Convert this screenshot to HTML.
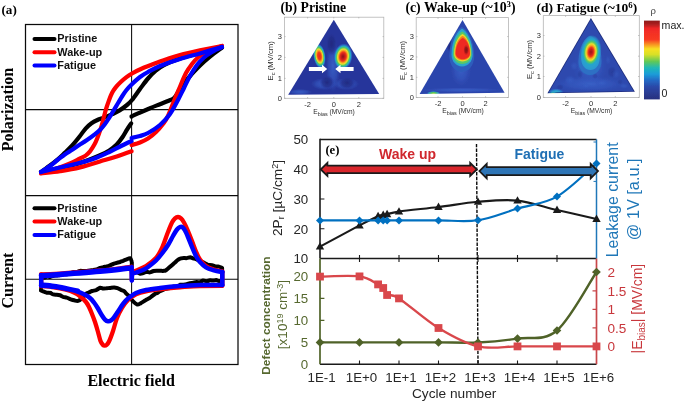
<!DOCTYPE html>
<html lang="en">
<head>
<meta charset="utf-8">
<title>Figure</title>
<style>
html,body{margin:0;padding:0;background:#fff;}
body{width:685px;height:405px;overflow:hidden;}
svg{display:block;filter:blur(0.4px);}
.ser{font-family:"Liberation Serif",serif;font-weight:bold;fill:#000;}
.san{font-family:"Liberation Sans",sans-serif;}
.sb{font-family:"Liberation Sans",sans-serif;font-weight:bold;}
</style>
</head>
<body>
<svg width="685" height="405" viewBox="0 0 685 405">
<rect x="0" y="0" width="685" height="405" fill="#ffffff"/>

<g id="panel-a">
<text class="ser" x="1.5" y="14" font-size="13.1">(a)</text>
<g fill="none" stroke="#0a0a0a" stroke-width="1.25">
<rect x="25.5" y="24.5" width="212.5" height="340.0"/>
<line x1="25.5" y1="195.6" x2="238.0" y2="195.6"/>
<line x1="131.6" y1="24.5" x2="131.6" y2="364.5" stroke-width="1.05"/>
<line x1="25.5" y1="109.6" x2="238.0" y2="109.6" stroke-width="1.05"/>
<line x1="25.5" y1="279.2" x2="238.0" y2="279.2" stroke-width="1.05"/>
</g>
<path d="M41.0 172.0 C42.5 170.9 47.2 167.6 50.0 165.5 C52.8 163.4 55.0 161.7 57.5 159.6 C60.0 157.5 62.3 155.2 64.8 152.8 C67.2 150.4 69.7 148.1 72.2 145.4 C74.7 142.7 77.4 139.3 79.6 136.5 C81.8 133.7 83.6 130.8 85.6 128.6 C87.6 126.4 89.5 124.6 91.5 123.2 C93.5 121.8 95.2 121.0 97.4 120.0 C99.6 119.0 102.3 118.4 104.8 117.4 C107.3 116.4 109.7 115.4 112.2 114.2 C114.7 113.0 117.1 111.9 119.6 110.4 C122.1 108.9 124.9 106.7 127.0 105.0 C129.1 103.3 129.8 102.7 132.0 100.0 C134.2 97.3 137.3 92.6 140.0 89.0 C142.7 85.4 145.3 81.6 148.0 78.5 C150.7 75.4 153.3 72.8 156.0 70.5 C158.7 68.2 160.0 67.0 164.0 65.0 C168.0 63.0 174.0 60.5 180.0 58.5 C186.0 56.5 193.0 54.8 200.0 53.0 C207.0 51.2 218.3 48.4 222.0 47.5" fill="none" stroke="#000" stroke-width="4.2" stroke-linecap="round" stroke-linejoin="round" />
<path d="M41.0 172.0 C44.2 171.3 53.5 169.5 60.0 168.0 C66.5 166.5 73.5 165.0 80.0 163.0 C86.5 161.0 94.0 157.9 98.9 155.8 C103.8 153.7 106.3 152.3 109.3 150.4 C112.3 148.5 114.5 146.6 116.7 144.4 C118.9 142.2 120.9 139.5 122.6 137.0 C124.3 134.5 125.6 131.9 127.0 129.6 C128.4 127.3 130.5 124.4 131.2 123.4" fill="none" stroke="#000" stroke-width="4.2" stroke-linecap="round" stroke-linejoin="round" />
<path d="M131.5 116.5 C132.9 115.8 136.9 114.0 140.0 112.6 C143.1 111.2 146.7 109.6 150.0 108.2 C153.3 106.8 157.0 105.4 160.0 104.2 C163.0 103.0 165.7 102.0 168.0 101.0 C170.3 100.0 172.2 99.6 174.0 98.0 C175.8 96.4 177.0 93.8 178.6 91.5 C180.2 89.2 181.5 86.7 183.5 84.0 C185.5 81.3 187.8 78.6 190.5 75.5 C193.2 72.4 196.8 68.7 200.0 65.5 C203.2 62.3 206.3 59.5 210.0 56.5 C213.7 53.5 220.0 49.0 222.0 47.5" fill="none" stroke="#000" stroke-width="4.2" stroke-linecap="round" stroke-linejoin="round" />
<path d="M41.0 173.0 C43.8 172.2 53.2 169.6 58.0 168.0 C62.8 166.4 66.4 165.1 70.0 163.5 C73.6 161.9 77.0 160.0 79.6 158.7 C82.2 157.4 83.9 156.8 85.6 155.6 C87.3 154.4 88.5 153.1 90.0 151.3 C91.5 149.5 93.2 146.8 94.4 144.6 C95.6 142.4 96.4 140.5 97.4 138.0 C98.4 135.5 99.5 132.2 100.4 129.6 C101.3 127.0 101.9 124.9 102.6 122.2 C103.3 119.5 104.1 116.2 104.8 113.5 C105.5 110.8 106.2 108.3 107.0 106.0 C107.8 103.7 108.5 101.7 109.3 99.5 C110.1 97.3 111.0 95.0 112.0 93.0 C113.0 91.0 114.0 89.5 115.5 87.6 C117.0 85.7 119.2 83.5 121.0 81.8 C122.8 80.1 124.7 78.6 126.5 77.2 C128.3 75.8 129.4 75.0 132.0 73.5 C134.6 72.0 138.3 70.1 142.0 68.5 C145.7 66.9 149.7 65.4 154.0 63.8 C158.3 62.2 163.7 60.3 168.0 58.8 C172.3 57.3 174.7 56.4 180.0 55.0 C185.3 53.6 193.0 51.9 200.0 50.4 C207.0 48.9 218.3 46.7 222.0 46.0" fill="none" stroke="#fe0000" stroke-width="4.2" stroke-linecap="round" stroke-linejoin="round" />
<path d="M41.0 173.5 C44.2 173.1 53.5 172.2 60.0 171.2 C66.5 170.2 72.5 169.3 80.0 167.4 C87.5 165.5 98.7 161.8 104.8 160.0 C110.9 158.2 112.2 157.8 116.7 156.4 C121.2 155.0 129.1 152.2 131.6 151.3" fill="none" stroke="#fe0000" stroke-width="4.2" stroke-linecap="round" stroke-linejoin="round" />
<path d="M131.6 145.0 C133.0 144.6 137.3 143.6 140.0 142.5 C142.7 141.4 145.3 140.2 148.0 138.5 C150.7 136.8 153.5 134.4 156.0 132.0 C158.5 129.6 161.0 126.7 163.0 124.0 C165.0 121.3 166.2 119.8 168.0 116.0 C169.8 112.2 172.2 105.5 174.0 101.0 C175.8 96.5 177.0 93.7 179.0 89.0 C181.0 84.3 183.8 77.2 186.0 73.0 C188.2 68.8 190.0 66.6 192.0 64.0 C194.0 61.4 195.7 59.4 198.0 57.5 C200.3 55.6 203.3 53.9 206.0 52.5 C208.7 51.1 211.3 50.1 214.0 49.0 C216.7 47.9 220.7 46.5 222.0 46.0" fill="none" stroke="#fe0000" stroke-width="4.2" stroke-linecap="round" stroke-linejoin="round" />
<path d="M41.0 172.0 C42.5 171.0 47.2 168.0 50.0 166.0 C52.8 164.0 55.0 161.9 57.5 160.0 C60.0 158.1 62.3 156.1 64.8 154.4 C67.2 152.7 69.7 151.4 72.2 149.8 C74.7 148.2 77.1 146.4 79.6 144.8 C82.1 143.2 84.5 141.7 87.0 140.0 C89.5 138.3 92.2 136.4 94.4 134.6 C96.6 132.8 98.7 131.1 100.4 129.4 C102.1 127.7 103.3 126.2 104.8 124.2 C106.3 122.2 107.8 119.9 109.3 117.6 C110.8 115.3 112.2 112.8 113.7 110.4 C115.2 108.0 116.7 105.3 118.1 103.0 C119.5 100.7 120.6 98.7 122.0 96.5 C123.4 94.3 124.9 92.0 126.5 90.0 C128.1 88.0 129.3 86.7 131.6 84.5 C133.8 82.3 137.3 79.1 140.0 77.0 C142.7 74.9 144.7 73.8 148.0 72.0 C151.3 70.2 154.7 68.2 160.0 66.0 C165.3 63.8 173.3 61.1 180.0 59.0 C186.7 56.9 193.0 55.4 200.0 53.4 C207.0 51.4 218.3 48.1 222.0 47.0" fill="none" stroke="#0000fe" stroke-width="4.2" stroke-linecap="round" stroke-linejoin="round" />
<path d="M41.0 172.0 C44.2 171.2 53.5 169.0 60.0 167.5 C66.5 166.0 74.3 164.3 80.0 162.8 C85.7 161.3 89.5 160.3 94.4 158.5 C99.3 156.7 104.8 154.1 109.3 152.0 C113.8 149.9 117.4 147.8 121.1 146.0 C124.8 144.2 129.8 141.8 131.6 141.0" fill="none" stroke="#0000fe" stroke-width="4.2" stroke-linecap="round" stroke-linejoin="round" />
<path d="M131.6 138.0 C133.0 137.7 137.3 136.8 140.0 136.0 C142.7 135.2 144.7 134.8 148.0 133.0 C151.3 131.2 156.3 128.2 160.0 125.0 C163.7 121.8 167.0 118.2 170.0 114.0 C173.0 109.8 175.7 104.3 178.0 100.0 C180.3 95.7 182.0 92.0 184.0 88.0 C186.0 84.0 187.8 79.8 190.0 76.0 C192.2 72.2 194.7 68.1 197.0 65.0 C199.3 61.9 201.5 59.7 204.0 57.5 C206.5 55.3 209.0 53.8 212.0 52.0 C215.0 50.2 220.3 47.8 222.0 47.0" fill="none" stroke="#0000fe" stroke-width="4.2" stroke-linecap="round" stroke-linejoin="round" />
<path d="M40.9 278.1 C41.4 278.0 43.0 277.9 44.1 277.6 C45.2 277.4 46.3 276.6 47.4 276.5 C48.4 276.4 49.3 277.0 50.3 276.9 C51.4 276.8 52.5 275.9 53.6 275.7 C54.7 275.4 55.9 275.6 57.0 275.5 C58.1 275.3 59.1 275.2 60.1 275.0 C61.2 274.7 62.3 274.1 63.4 274.0 C64.5 273.9 65.6 274.4 66.7 274.3 C67.8 274.2 68.9 273.9 70.0 273.5 C71.1 273.2 72.3 272.4 73.4 272.1 C74.5 271.9 75.7 272.4 76.8 272.2 C77.8 272.0 78.8 271.1 79.9 270.9 C81.0 270.7 82.3 271.0 83.5 271.0 C84.6 271.0 85.6 271.0 86.7 271.0 C87.8 270.9 89.0 270.7 90.1 270.5 C91.2 270.3 92.2 270.0 93.3 269.9 C94.4 269.7 95.5 269.8 96.6 269.5 C97.8 269.2 99.0 268.4 100.1 268.0 C101.2 267.6 102.1 267.4 103.2 267.2 C104.3 266.9 105.7 266.7 106.8 266.4 C108.0 266.1 109.0 265.7 110.0 265.3 C111.1 264.9 112.2 264.4 113.3 264.0 C114.4 263.6 115.5 263.3 116.6 262.9 C117.7 262.6 119.0 262.3 120.0 262.0 C121.1 261.6 122.0 261.2 123.1 260.8 C124.1 260.4 125.0 260.0 126.1 259.6 C127.3 259.2 129.1 257.9 130.1 258.2 C131.0 258.5 131.4 260.5 131.7 261.6 C132.0 262.6 131.8 263.7 131.8 264.7 C131.8 265.8 131.8 266.8 131.8 268.0 C131.8 269.2 131.8 271.3 131.8 272.0" fill="none" stroke="#000" stroke-width="4.0" stroke-linecap="round" stroke-linejoin="round" />
<path d="M131.9 272.1 C132.6 272.1 134.4 271.6 135.8 271.9 C137.2 272.2 138.9 273.5 140.1 273.7 C141.4 273.9 142.1 273.4 143.2 273.1 C144.2 272.8 145.5 272.0 146.6 271.8 C147.8 271.7 148.8 272.5 149.9 272.4 C151.1 272.2 152.4 271.3 153.5 271.0 C154.6 270.7 155.6 270.7 156.7 270.7 C157.8 270.7 159.0 270.7 160.1 270.8 C161.2 270.8 162.2 271.0 163.2 270.9 C164.1 270.8 164.9 270.9 166.0 270.2 C167.1 269.5 168.6 268.1 169.9 266.9 C171.3 265.8 172.7 264.5 174.0 263.3 C175.4 262.2 176.7 260.7 177.9 259.9 C179.0 259.0 180.1 258.6 181.0 258.3 C182.0 258.0 182.8 258.0 183.8 258.0 C184.8 258.0 185.9 258.3 186.9 258.1 C188.0 258.0 189.2 257.3 190.2 257.3 C191.2 257.4 192.0 258.0 193.0 258.3 C194.0 258.6 194.9 258.7 196.1 259.1 C197.2 259.6 198.7 260.6 200.0 261.2 C201.4 261.8 202.9 262.2 204.2 262.8 C205.5 263.4 206.7 264.4 208.0 264.8 C209.3 265.2 210.5 264.9 211.9 265.2 C213.3 265.5 215.0 266.3 216.2 266.5 C217.4 266.8 218.1 266.3 219.0 266.6 C220.0 266.8 221.5 267.8 222.0 268.0" fill="none" stroke="#000" stroke-width="4.0" stroke-linecap="round" stroke-linejoin="round" />
<path d="M222.0 281.1 C221.4 281.1 219.8 281.2 218.8 281.0 C217.8 280.9 217.0 280.2 216.1 280.1 C215.1 280.1 214.1 280.6 213.1 280.6 C212.1 280.6 211.1 280.2 210.1 280.3 C209.0 280.4 207.9 281.1 206.8 281.2 C205.6 281.2 204.2 280.4 203.1 280.6 C202.0 280.7 201.2 281.9 200.1 282.1 C199.0 282.4 197.7 282.0 196.6 282.1 C195.4 282.2 194.5 282.4 193.4 282.6 C192.3 282.8 191.1 283.0 189.9 283.2 C188.8 283.5 187.7 284.1 186.6 284.3 C185.5 284.5 184.3 284.6 183.2 284.7 C182.2 284.8 181.2 284.5 180.1 284.8 C179.1 285.2 178.1 286.3 177.0 286.6 C176.0 286.9 174.9 286.5 173.9 286.6 C172.9 286.7 172.1 287.1 171.1 287.4 C170.1 287.7 169.0 288.1 167.9 288.4 C166.7 288.8 165.4 289.0 164.1 289.4 C162.8 289.9 161.0 290.7 159.9 291.3 C158.8 291.8 158.3 292.5 157.5 292.9 C156.6 293.4 155.7 293.5 154.8 294.0 C153.9 294.6 152.9 295.5 151.9 296.2 C151.0 296.9 150.2 297.6 149.2 298.2 C148.2 298.8 147.2 299.2 145.9 300.0 C144.5 300.8 142.5 302.3 141.0 303.1 C139.6 303.8 138.5 304.8 137.1 304.5 C135.8 304.2 133.9 302.1 132.9 301.2 C131.9 300.3 131.8 300.0 131.1 299.2 C130.5 298.4 129.9 297.2 129.1 296.3 C128.3 295.4 127.2 294.6 126.3 293.7 C125.5 292.9 125.0 291.8 124.1 291.2 C123.2 290.5 122.0 290.4 120.9 289.9 C119.9 289.4 119.1 288.8 118.0 288.4 C116.8 288.0 115.5 287.5 114.2 287.4 C112.8 287.3 111.0 287.8 109.8 287.9 C108.6 288.1 107.9 288.2 106.8 288.3 C105.7 288.4 104.4 288.6 103.3 288.5 C102.2 288.5 101.4 287.6 100.2 287.8 C99.0 288.1 97.5 289.5 96.1 290.1 C94.8 290.6 93.3 290.6 92.1 291.0 C90.9 291.4 89.9 292.0 88.9 292.5 C87.9 293.0 87.0 292.9 85.9 293.9 C84.7 294.8 83.3 297.0 82.0 298.2 C80.7 299.4 79.4 300.5 78.1 300.9 C76.8 301.2 75.5 300.6 74.2 300.3 C72.8 300.0 71.4 299.5 70.2 299.1 C69.0 298.6 68.0 298.0 66.8 297.6 C65.7 297.2 64.3 297.2 63.1 296.8 C62.0 296.4 60.9 295.6 59.9 295.2 C58.8 294.9 57.8 294.8 56.7 294.7 C55.6 294.6 54.4 294.8 53.3 294.4 C52.2 294.1 51.1 293.1 50.0 292.8 C49.0 292.5 47.9 292.8 46.9 292.7 C45.9 292.5 45.0 292.1 44.0 291.7 C43.0 291.4 41.5 290.7 41.0 290.5" fill="none" stroke="#000" stroke-width="4.0" stroke-linecap="round" stroke-linejoin="round" />
<path d="M41 277 V290.5 M222.3 268 V283" stroke="#000" stroke-width="3.6" fill="none" stroke-linecap="round"/>
<path d="M41.0 274.5 C44.2 274.4 53.5 274.0 60.0 273.6 C66.5 273.2 73.3 272.5 80.0 272.0 C86.7 271.5 93.3 271.1 100.0 270.5 C106.7 269.9 114.9 268.9 120.0 268.3 C125.1 267.7 128.6 266.9 130.5 266.8 C132.4 266.8 131.4 265.8 131.6 268.0 C131.8 270.2 131.7 279.2 131.8 280.0 C131.9 280.8 131.7 274.6 132.4 273.0 C133.1 271.4 133.7 271.8 136.0 270.6 C138.3 269.4 142.7 268.1 146.0 266.0 C149.3 263.9 153.3 261.0 156.0 258.0 C158.7 255.0 160.0 252.3 162.0 248.0 C164.0 243.7 166.3 236.2 168.0 232.0 C169.7 227.8 170.8 224.8 172.0 222.5 C173.2 220.2 174.0 219.2 175.0 218.3 C176.0 217.4 177.0 217.0 178.0 217.0 C179.0 217.0 180.0 217.4 181.0 218.3 C182.0 219.2 182.8 220.4 184.0 222.5 C185.2 224.6 186.7 227.9 188.0 231.0 C189.3 234.1 190.7 237.6 192.0 241.0 C193.3 244.4 194.7 248.4 196.0 251.5 C197.3 254.6 198.3 257.1 200.0 259.5 C201.7 261.9 203.7 264.3 206.0 266.0 C208.3 267.7 211.3 268.6 214.0 269.5 C216.7 270.4 220.9 271.2 222.3 271.5" fill="none" stroke="#fe0000" stroke-width="4.3" stroke-linecap="round" stroke-linejoin="round" />
<path d="M222.3 285.8 C218.6 285.8 207.1 285.8 200.0 286.0 C192.9 286.2 186.7 286.8 180.0 287.3 C173.3 287.9 165.7 288.6 160.0 289.3 C154.3 290.0 150.0 290.5 146.0 291.3 C142.0 292.1 139.0 292.9 136.0 294.3 C133.0 295.8 130.3 297.7 128.0 300.0 C125.7 302.3 123.8 305.0 122.0 308.0 C120.2 311.0 118.5 314.2 117.0 318.0 C115.5 321.8 114.3 327.1 113.0 331.0 C111.7 334.9 110.1 339.2 109.0 341.5 C107.9 343.8 107.2 344.3 106.5 345.0 C105.8 345.7 105.4 345.7 104.8 345.7 C104.2 345.7 103.7 345.8 103.0 345.0 C102.3 344.2 101.3 343.2 100.5 341.0 C99.7 338.8 98.9 335.2 98.0 332.0 C97.1 328.8 96.0 325.0 95.0 322.0 C94.0 319.0 93.0 316.5 92.0 314.0 C91.0 311.5 90.0 309.0 89.0 307.0 C88.0 305.0 87.5 303.8 86.0 302.0 C84.5 300.2 82.0 297.9 80.0 296.3 C78.0 294.7 76.3 293.7 74.0 292.6 C71.7 291.5 69.3 290.7 66.0 289.8 C62.7 288.9 58.2 287.9 54.0 287.3 C49.8 286.7 43.2 286.2 41.0 286.0" fill="none" stroke="#fe0000" stroke-width="4.3" stroke-linecap="round" stroke-linejoin="round" />
<path d="M41.2 274.5 V286 M222.3 271.5 V285.8" stroke="#fe0000" stroke-width="4.3" fill="none" stroke-linecap="round"/>
<path d="M41.4 276.3 C44.5 276.1 53.6 275.5 60.0 275.0 C66.4 274.5 73.3 273.9 80.0 273.4 C86.7 272.9 93.3 272.4 100.0 271.8 C106.7 271.2 114.9 270.4 120.0 269.8 C125.1 269.2 128.8 268.6 130.6 268.4" fill="none" stroke="#0000fe" stroke-width="4.5" stroke-linecap="round" stroke-linejoin="round" />
<path d="M41.4 284.6 C43.5 284.8 49.9 285.3 54.0 285.9 C58.1 286.5 62.0 287.3 66.0 288.1 C70.0 288.9 76.0 290.4 78.0 290.8" fill="none" stroke="#0000fe" stroke-width="4.5" stroke-linecap="round" stroke-linejoin="round" />
<path d="M41.0 275.3 C44.2 275.1 53.5 274.5 60.0 274.0 C66.5 273.5 73.3 272.9 80.0 272.4 C86.7 271.9 93.3 271.4 100.0 270.8 C106.7 270.2 114.9 269.4 120.0 268.8 C125.1 268.2 128.6 267.4 130.5 267.4 C132.4 267.3 131.4 266.3 131.6 268.5 C131.8 270.7 131.7 279.6 131.8 280.5 C131.9 281.4 131.7 275.1 132.4 273.8 C133.1 272.5 134.1 273.3 136.0 272.6 C137.9 271.9 141.7 270.8 144.0 269.6 C146.3 268.4 148.0 267.0 150.0 265.5 C152.0 264.0 154.0 262.5 156.0 260.5 C158.0 258.5 160.0 256.1 162.0 253.5 C164.0 250.9 166.2 247.9 168.0 245.0 C169.8 242.1 171.5 238.6 173.0 236.0 C174.5 233.4 175.8 231.0 177.0 229.5 C178.2 228.0 179.1 227.4 180.0 227.0 C180.9 226.6 181.7 226.7 182.5 227.3 C183.3 227.9 184.1 228.9 185.0 230.5 C185.9 232.1 186.8 234.2 188.0 237.0 C189.2 239.8 190.7 243.8 192.0 247.0 C193.3 250.2 194.7 253.5 196.0 256.0 C197.3 258.5 198.3 260.1 200.0 262.0 C201.7 263.9 203.7 265.9 206.0 267.3 C208.3 268.7 211.3 269.5 214.0 270.3 C216.7 271.1 220.9 271.7 222.3 272.0" fill="none" stroke="#0000fe" stroke-width="4.5" stroke-linecap="round" stroke-linejoin="round" />
<path d="M222.3 285.0 C218.6 285.0 207.1 284.8 200.0 285.0 C192.9 285.2 186.7 285.5 180.0 286.0 C173.3 286.5 165.7 287.3 160.0 288.0 C154.3 288.7 150.0 289.2 146.0 290.0 C142.0 290.8 139.0 291.6 136.0 293.0 C133.0 294.4 130.2 296.8 128.0 298.6 C125.8 300.4 124.7 301.9 123.0 304.0 C121.3 306.1 119.5 309.3 118.0 311.5 C116.5 313.7 115.2 315.8 114.0 317.3 C112.8 318.8 112.0 319.7 111.0 320.4 C110.0 321.1 109.0 321.4 108.0 321.3 C107.0 321.2 106.0 320.6 105.0 319.6 C104.0 318.6 103.2 317.4 102.0 315.5 C100.8 313.6 99.3 310.7 98.0 308.5 C96.7 306.3 95.3 304.2 94.0 302.5 C92.7 300.8 91.7 299.4 90.0 298.0 C88.3 296.6 86.3 295.3 84.0 294.2 C81.7 293.1 79.0 292.1 76.0 291.2 C73.0 290.3 69.7 289.7 66.0 289.0 C62.3 288.3 58.2 287.4 54.0 286.8 C49.8 286.2 43.2 285.7 41.0 285.5" fill="none" stroke="#0000fe" stroke-width="4.5" stroke-linecap="round" stroke-linejoin="round" />
<path d="M41.2 275.3 V285.5 M222.3 272 V285" stroke="#0000fe" stroke-width="4.5" fill="none" stroke-linecap="round"/>
<line x1="34.5" y1="39.0" x2="54.5" y2="39.0" stroke="#000" stroke-width="4" stroke-linecap="round"/>
<text class="sb" x="57.3" y="42.2" font-size="10.9" fill="#111">Pristine</text>
<line x1="34.5" y1="52.3" x2="54.5" y2="52.3" stroke="#fe0000" stroke-width="4" stroke-linecap="round"/>
<text class="sb" x="57.3" y="55.5" font-size="10.9" fill="#111">Wake-up</text>
<line x1="34.5" y1="65.6" x2="54.5" y2="65.6" stroke="#0000fe" stroke-width="4" stroke-linecap="round"/>
<text class="sb" x="57.3" y="68.8" font-size="10.9" fill="#111">Fatigue</text>
<line x1="34.5" y1="208.3" x2="54.5" y2="208.3" stroke="#000" stroke-width="4" stroke-linecap="round"/>
<text class="sb" x="57.3" y="211.5" font-size="10.9" fill="#111">Pristine</text>
<line x1="34.5" y1="221.6" x2="54.5" y2="221.6" stroke="#fe0000" stroke-width="4" stroke-linecap="round"/>
<text class="sb" x="57.3" y="224.8" font-size="10.9" fill="#111">Wake-up</text>
<line x1="34.5" y1="234.9" x2="54.5" y2="234.9" stroke="#0000fe" stroke-width="4" stroke-linecap="round"/>
<text class="sb" x="57.3" y="238.1" font-size="10.9" fill="#111">Fatigue</text>
<text class="ser" transform="translate(13.1,109.6) rotate(-90)" text-anchor="middle" font-size="16">Polarization</text>
<text class="ser" transform="translate(13.1,280.6) rotate(-90)" text-anchor="middle" font-size="16">Current</text>
<text class="ser" x="131.2" y="386" text-anchor="middle" font-size="16">Electric field</text>
</g>
<defs>
<radialGradient id="hotA" cx="0.5" cy="0.5" r="0.5">
<stop offset="0" stop-color="#8e1418" stop-opacity="1"/>
<stop offset="0.18" stop-color="#c01c1c" stop-opacity="1"/>
<stop offset="0.34" stop-color="#ee361c" stop-opacity="1"/>
<stop offset="0.46" stop-color="#f8a020" stop-opacity="1"/>
<stop offset="0.56" stop-color="#e8e030" stop-opacity="1"/>
<stop offset="0.67" stop-color="#58c860" stop-opacity="1"/>
<stop offset="0.79" stop-color="#22a8c8" stop-opacity="1"/>
<stop offset="0.9" stop-color="#2c62c4" stop-opacity="0.8"/>
<stop offset="1" stop-color="#2c4cb0" stop-opacity="0"/>
</radialGradient>
<radialGradient id="hotB" cx="0.5" cy="0.5" r="0.5">
<stop offset="0" stop-color="#e8281e" stop-opacity="1"/>
<stop offset="0.28" stop-color="#f03a1c" stop-opacity="1"/>
<stop offset="0.44" stop-color="#f8a020" stop-opacity="1"/>
<stop offset="0.55" stop-color="#e8e030" stop-opacity="1"/>
<stop offset="0.67" stop-color="#58c860" stop-opacity="1"/>
<stop offset="0.8" stop-color="#22a8c8" stop-opacity="1"/>
<stop offset="0.91" stop-color="#2c62c4" stop-opacity="0.8"/>
<stop offset="1" stop-color="#2c4cb0" stop-opacity="0"/>
</radialGradient>
<radialGradient id="hotD" cx="0.5" cy="0.5" r="0.5">
<stop offset="0" stop-color="#9a1618" stop-opacity="1"/>
<stop offset="0.14" stop-color="#c01c1c" stop-opacity="1"/>
<stop offset="0.27" stop-color="#ee361c" stop-opacity="1"/>
<stop offset="0.38" stop-color="#f8a020" stop-opacity="1"/>
<stop offset="0.48" stop-color="#e8e030" stop-opacity="1"/>
<stop offset="0.6" stop-color="#58c860" stop-opacity="1"/>
<stop offset="0.74" stop-color="#22a8c8" stop-opacity="1"/>
<stop offset="0.88" stop-color="#2aa2d0" stop-opacity="0.6"/>
<stop offset="1" stop-color="#2aa2d0" stop-opacity="0"/>
</radialGradient>
<radialGradient id="dk" cx="0.5" cy="0.5" r="0.5">
<stop offset="0" stop-color="#7a1216" stop-opacity="1"/>
<stop offset="0.5" stop-color="#8e1418" stop-opacity="0.8"/>
<stop offset="1" stop-color="#c81e1e" stop-opacity="0"/>
</radialGradient>
<radialGradient id="lt" cx="0.5" cy="0.5" r="0.5">
<stop offset="0" stop-color="#3a62c8" stop-opacity="0.9"/>
<stop offset="0.6" stop-color="#3458c0" stop-opacity="0.6"/>
<stop offset="1" stop-color="#3050b8" stop-opacity="0"/>
</radialGradient>
<radialGradient id="dkb" cx="0.5" cy="0.5" r="0.5">
<stop offset="0" stop-color="#20287e" stop-opacity="0.95"/>
<stop offset="0.6" stop-color="#222c88" stop-opacity="0.7"/>
<stop offset="1" stop-color="#26309a" stop-opacity="0"/>
</radialGradient>
<radialGradient id="cy" cx="0.5" cy="0.5" r="0.5">
<stop offset="0" stop-color="#30b8c8" stop-opacity="1"/>
<stop offset="0.5" stop-color="#2c9cd0" stop-opacity="0.95"/>
<stop offset="0.78" stop-color="#2c78c8" stop-opacity="0.7"/>
<stop offset="1" stop-color="#2c60c0" stop-opacity="0"/>
</radialGradient>
<radialGradient id="gr" cx="0.5" cy="0.5" r="0.5">
<stop offset="0" stop-color="#c8d830" stop-opacity="1"/>
<stop offset="0.35" stop-color="#50c060" stop-opacity="1"/>
<stop offset="0.7" stop-color="#28a0c0" stop-opacity="0.9"/>
<stop offset="1" stop-color="#2c60c0" stop-opacity="0"/>
</radialGradient>
<linearGradient id="jet" x1="0" y1="0" x2="0" y2="1">
<stop offset="0" stop-color="#8c1c1c"/>
<stop offset="0.05" stop-color="#b02020"/>
<stop offset="0.1" stop-color="#f02828"/>
<stop offset="0.24" stop-color="#f83a20"/>
<stop offset="0.3" stop-color="#f89020"/>
<stop offset="0.36" stop-color="#f8e020"/>
<stop offset="0.43" stop-color="#d8e028"/>
<stop offset="0.52" stop-color="#60c858"/>
<stop offset="0.6" stop-color="#20b8b8"/>
<stop offset="0.68" stop-color="#1c9cd8"/>
<stop offset="0.76" stop-color="#2468c4"/>
<stop offset="0.84" stop-color="#2a48a8"/>
<stop offset="1" stop-color="#28307e"/>
</linearGradient>
<clipPath id="triB"><path d="M333.8 19.8 L379.2 94 L288.2 94.8 Z"/></clipPath>
<clipPath id="triC"><path d="M462.5 20 L504.6 92.7 L419.6 93.9 Z"/></clipPath>
<clipPath id="triD"><path d="M590.9 18 L634.9 91.8 L547.4 93.2 Z"/></clipPath>
<filter id="bl1" x="-20%" y="-20%" width="140%" height="140%"><feGaussianBlur stdDeviation="0.6"/></filter>
<filter id="bl2" x="-20%" y="-20%" width="140%" height="140%"><feGaussianBlur stdDeviation="0.35"/></filter>
</defs>
<g id="panel-b">
<text class="ser" x="280.4" y="12" font-size="13.7">(b) Pristine</text>
<rect x="284.4" y="17.2" width="99.4" height="81.1" fill="none" stroke="#b4b4b4" stroke-width="0.8"/>
<g class="san" font-size="7.5" fill="#2c2c2c" filter="url(#bl2)">
<text x="307.6" y="106.6" text-anchor="middle">-2</text>
<path d="M307.6 98.3 v-1.2 M307.6 17.2 v1.2" stroke="#999" stroke-width="0.6"/>
<text x="333.8" y="106.6" text-anchor="middle">0</text>
<path d="M333.8 98.3 v-1.2 M333.8 17.2 v1.2" stroke="#999" stroke-width="0.6"/>
<text x="358.8" y="106.6" text-anchor="middle">2</text>
<path d="M358.8 98.3 v-1.2 M358.8 17.2 v1.2" stroke="#999" stroke-width="0.6"/>
<text x="282.0" y="100.9" text-anchor="end">0</text>
<path d="M284.4 98.3 h1.2 M383.8 98.3 h-1.2" stroke="#999" stroke-width="0.6"/>
<text x="282.0" y="81.0" text-anchor="end">1</text>
<path d="M284.4 78.4 h1.2 M383.8 78.4 h-1.2" stroke="#999" stroke-width="0.6"/>
<text x="282.0" y="60.0" text-anchor="end">2</text>
<path d="M284.4 57.4 h1.2 M383.8 57.4 h-1.2" stroke="#999" stroke-width="0.6"/>
<text x="282.0" y="39.2" text-anchor="end">3</text>
<path d="M284.4 36.6 h1.2 M383.8 36.6 h-1.2" stroke="#999" stroke-width="0.6"/>
<text x="334.0" y="114.1" text-anchor="middle" font-size="6.7">E<tspan font-size="5.4" dy="1.8">bias</tspan><tspan dy="-1.8"> (MV/cm)</tspan></text>
<text transform="translate(273.2,60.8) rotate(-90)" text-anchor="middle" font-size="7.7">E<tspan font-size="5.8" dy="1.8">c</tspan><tspan dy="-1.8"> (MV/cm)</tspan></text>
</g>
<g clip-path="url(#triB)"><g filter="url(#bl1)">
<rect x="284" y="15" width="100" height="84" fill="#27369b"/>
<ellipse cx="333" cy="66" rx="7" ry="26" fill="url(#lt)"/>
<ellipse cx="324" cy="84" rx="13" ry="6" fill="url(#lt)"/>
<ellipse cx="346" cy="84" rx="13" ry="6" fill="url(#lt)"/>
<ellipse cx="331.5" cy="44" rx="5.5" ry="12" fill="url(#dkb)"/>
<ellipse cx="327" cy="82.5" rx="7.5" ry="7" fill="url(#dkb)"/>
<ellipse cx="347" cy="83" rx="8.5" ry="6.5" fill="url(#dkb)"/>
<ellipse cx="300" cy="92" rx="12" ry="3" fill="url(#lt)"/>
<ellipse cx="319.4" cy="56" rx="6.2" ry="12.6" fill="url(#hotB)" transform="rotate(-8 319.4 56)"/>
<ellipse cx="343" cy="56.6" rx="9.6" ry="13.4" fill="url(#hotA)" transform="rotate(8 343 56.6)"/>
</g></g>
<path d="M308.9 67 H322 V64.8 L327.2 69 L322 73.2 V71 H308.9 Z" fill="#fff"/>
<path d="M353.6 67 H340.5 V64.8 L335.3 69 L340.5 73.2 V71 H353.6 Z" fill="#fff"/>
</g>
<g id="panel-c">
<text class="ser" x="405.4" y="12" font-size="13.8">(c) Wake-up (~10<tspan font-size="8.8" dy="-4.6">3</tspan><tspan dy="4.6">)</tspan></text>
<rect x="416.2" y="17.6" width="92.2" height="79.9" fill="none" stroke="#b4b4b4" stroke-width="0.8"/>
<g class="san" font-size="7.5" fill="#2c2c2c" filter="url(#bl2)">
<text x="438.0" y="105.8" text-anchor="middle">-2</text>
<path d="M438.0 97.5 v-1.2 M438.0 17.6 v1.2" stroke="#999" stroke-width="0.6"/>
<text x="462.5" y="105.8" text-anchor="middle">0</text>
<path d="M462.5 97.5 v-1.2 M462.5 17.6 v1.2" stroke="#999" stroke-width="0.6"/>
<text x="485.6" y="105.8" text-anchor="middle">2</text>
<path d="M485.6 97.5 v-1.2 M485.6 17.6 v1.2" stroke="#999" stroke-width="0.6"/>
<text x="413.8" y="100.1" text-anchor="end">0</text>
<path d="M416.2 97.5 h1.2 M508.4 97.5 h-1.2" stroke="#999" stroke-width="0.6"/>
<text x="413.8" y="79.9" text-anchor="end">1</text>
<path d="M416.2 77.3 h1.2 M508.4 77.3 h-1.2" stroke="#999" stroke-width="0.6"/>
<text x="413.8" y="59.6" text-anchor="end">2</text>
<path d="M416.2 57.0 h1.2 M508.4 57.0 h-1.2" stroke="#999" stroke-width="0.6"/>
<text x="413.8" y="39.2" text-anchor="end">3</text>
<path d="M416.2 36.6 h1.2 M508.4 36.6 h-1.2" stroke="#999" stroke-width="0.6"/>
<text x="463.0" y="113.3" text-anchor="middle" font-size="6.7">E<tspan font-size="5.4" dy="1.8">bias</tspan><tspan dy="-1.8"> (MV/cm)</tspan></text>
<text transform="translate(405.0,60.5) rotate(-90)" text-anchor="middle" font-size="7.7">E<tspan font-size="5.8" dy="1.8">c</tspan><tspan dy="-1.8"> (MV/cm)</tspan></text>
</g>
<g clip-path="url(#triC)"><g filter="url(#bl1)">
<rect x="416" y="15" width="100" height="84" fill="#2c45ac"/>
<ellipse cx="461" cy="70" rx="10" ry="16" fill="url(#lt)"/>
<ellipse cx="450" cy="46" rx="4" ry="6" fill="url(#dkb)"/>
<ellipse cx="462" cy="90" rx="40" ry="2.5" fill="url(#lt)"/>
<path d="M461.8 27.0 C466.3 28.7 474.2 38.6 474.2 56.0 C474.2 65.6 468.6 72.0 461.8 72.0 C455.0 72.0 449.4 65.6 449.4 56.0 C449.4 38.6 457.3 28.7 461.8 27.0 Z" fill="#2f5cbc"/>
<path d="M462.1 28.8 C465.9 30.3 472.7 39.1 472.7 54.5 C472.7 61.6 467.9 66.4 462.1 66.4 C456.3 66.4 451.5 61.6 451.5 54.5 C451.5 39.1 458.3 30.3 462.1 28.8 Z" fill="#2aa6cc"/>
<path d="M462.3 31.6 C465.6 33.0 471.6 40.6 471.6 54.2 C471.6 60.1 467.4 64.0 462.3 64.0 C457.2 64.0 453.0 60.1 453.0 54.2 C453.0 40.6 459.0 33.0 462.3 31.6 Z" fill="#58c868"/>
<path d="M462.5 34.0 C465.5 35.2 470.8 41.9 470.8 53.8 C470.8 58.4 467.1 61.4 462.5 61.4 C457.9 61.4 454.2 58.4 454.2 53.8 C454.2 41.9 459.5 35.2 462.5 34.0 Z" fill="#f0d828"/>
<path d="M462.6 36.0 C465.4 37.0 470.3 43.0 470.3 53.5 C470.3 57.5 466.8 60.2 462.6 60.2 C458.4 60.2 454.9 57.5 454.9 53.5 C454.9 43.0 459.8 37.0 462.6 36.0 Z" fill="#f4801e"/>
<path d="M462.8 38.0 C465.4 38.9 469.9 44.1 469.9 53.2 C469.9 56.8 466.7 59.2 462.8 59.2 C458.9 59.2 455.7 56.8 455.7 53.2 C455.7 44.1 460.2 38.9 462.8 38.0 Z" fill="#ee2c20"/>
<ellipse cx="466.2" cy="50" rx="3" ry="5.6" fill="url(#dk)"/>
<ellipse cx="433.5" cy="93.2" rx="7" ry="2.2" fill="url(#gr)"/>
</g></g>
</g>
<g id="panel-d">
<text class="ser" x="536.6" y="12" font-size="13.5">(d) Fatigue (~10<tspan font-size="8.8" dy="-4.2">6</tspan><tspan dy="4.2">)</tspan></text>
<rect x="543.3" y="15.6" width="96.0" height="81.8" fill="none" stroke="#b4b4b4" stroke-width="0.8"/>
<g class="san" font-size="7.5" fill="#2c2c2c" filter="url(#bl2)">
<text x="565.6" y="105.7" text-anchor="middle">-2</text>
<path d="M565.6 97.4 v-1.2 M565.6 15.6 v1.2" stroke="#999" stroke-width="0.6"/>
<text x="591.0" y="105.7" text-anchor="middle">0</text>
<path d="M591.0 97.4 v-1.2 M591.0 15.6 v1.2" stroke="#999" stroke-width="0.6"/>
<text x="615.3" y="105.7" text-anchor="middle">2</text>
<path d="M615.3 97.4 v-1.2 M615.3 15.6 v1.2" stroke="#999" stroke-width="0.6"/>
<text x="540.9" y="100.0" text-anchor="end">0</text>
<path d="M543.3 97.4 h1.2 M639.3 97.4 h-1.2" stroke="#999" stroke-width="0.6"/>
<text x="540.9" y="79.1" text-anchor="end">1</text>
<path d="M543.3 76.5 h1.2 M639.3 76.5 h-1.2" stroke="#999" stroke-width="0.6"/>
<text x="540.9" y="58.8" text-anchor="end">2</text>
<path d="M543.3 56.2 h1.2 M639.3 56.2 h-1.2" stroke="#999" stroke-width="0.6"/>
<text x="540.9" y="38.1" text-anchor="end">3</text>
<path d="M543.3 35.5 h1.2 M639.3 35.5 h-1.2" stroke="#999" stroke-width="0.6"/>
<text x="591.5" y="113.2" text-anchor="middle" font-size="6.7">E<tspan font-size="5.4" dy="1.8">bias</tspan><tspan dy="-1.8"> (MV/cm)</tspan></text>
<text transform="translate(532.1,59.5) rotate(-90)" text-anchor="middle" font-size="7.7">E<tspan font-size="5.8" dy="1.8">c</tspan><tspan dy="-1.8"> (MV/cm)</tspan></text>
</g>
<g clip-path="url(#triD)"><g filter="url(#bl1)">
<rect x="543" y="14" width="100" height="84" fill="#2d4aae"/>
<ellipse cx="590" cy="66" rx="17" ry="22" fill="url(#lt)"/>
<ellipse cx="590" cy="84" rx="36" ry="8" fill="url(#lt)"/>
<ellipse cx="612" cy="72" rx="5" ry="6" fill="url(#dkb)" opacity="0.4"/>
<ellipse cx="570" cy="80" rx="6" ry="5" fill="url(#lt)" opacity="0.7"/>
<ellipse cx="602" cy="83" rx="7" ry="4" fill="url(#lt)" opacity="0.7"/>
<ellipse cx="616" cy="74" rx="4" ry="5" fill="url(#lt)" opacity="0.5"/>
<ellipse cx="574" cy="66" rx="4" ry="5" fill="url(#lt)" opacity="0.6"/>
<ellipse cx="608" cy="60" rx="3" ry="5" fill="url(#lt)" opacity="0.5"/>
<ellipse cx="586" cy="86" rx="5" ry="3" fill="url(#lt)" opacity="0.6"/>
<ellipse cx="624" cy="86" rx="5" ry="3" fill="url(#lt)" opacity="0.6"/>
<ellipse cx="560" cy="87" rx="4" ry="3" fill="url(#dkb)" opacity="0.35"/>
<ellipse cx="595" cy="76" rx="3" ry="3" fill="url(#dkb)" opacity="0.3"/>
<ellipse cx="580" cy="74" rx="3" ry="4" fill="url(#dkb)" opacity="0.3"/>
<ellipse cx="620" cy="82" rx="3" ry="3" fill="url(#dkb)" opacity="0.3"/>
<ellipse cx="589.6" cy="63.5" rx="12.5" ry="12.5" fill="url(#cy)"/>
<path d="M590.0 35.5 C594.1 37.0 601.5 45.7 601.5 61.0 C601.5 69.4 596.3 75.0 590.0 75.0 C583.7 75.0 578.5 69.4 578.5 61.0 C578.5 45.7 585.9 37.0 590.0 35.5 Z" fill="#2d70c4"/>
<path d="M590.4 38.5 C593.7 39.7 599.6 46.5 599.6 58.5 C599.6 65.4 595.5 70.0 590.4 70.0 C585.3 70.0 581.2 65.4 581.2 58.5 C581.2 46.5 587.1 39.7 590.4 38.5 Z" fill="#2a9ad0"/>
<ellipse cx="591" cy="52" rx="10.5" ry="17" fill="url(#hotD)" transform="rotate(6 591 52)"/>
<ellipse cx="556" cy="92.5" rx="8" ry="4" fill="url(#cy)"/>
<path d="M590.9 18 L634.9 91.8 L547.4 93.2 Z" fill="none" stroke="#1c2470" stroke-width="1.6" opacity="0.8"/>
<ellipse cx="553" cy="93.4" rx="5" ry="1.4" fill="url(#gr)"/>
</g></g>
<rect x="644" y="20.6" width="15.8" height="78.8" fill="url(#jet)" filter="url(#bl2)"/>
<g class="san" fill="#222" filter="url(#bl2)">
<text x="650.5" y="14.2" font-size="9.5" fill="#444">ρ</text>
<text x="661.6" y="29.4" font-size="10.6">max.</text>
<text x="661.4" y="97" font-size="10.6">0</text>
</g>
</g>
<g id="panel-e">
<path d="M320.0 139.4 H596.5" stroke="#1a1a1a" stroke-width="1.5" fill="none"/>
<path d="M320.0 138.7 V258.6" stroke="#1a1a1a" stroke-width="1.6" fill="none"/>
<path d="M320.0 258.6 H596.5" stroke="#1a1a1a" stroke-width="1.5" fill="none"/>
<path d="M320.0 364.2 H596.5" stroke="#1a1a1a" stroke-width="1.5" fill="none"/>
<path d="M596.5 139.4 V258.6" stroke="#1f77b8" stroke-width="1.5" fill="none"/>
<path d="M320.0 258.6 V364.2" stroke="#4f6228" stroke-width="1.7" fill="none"/>
<path d="M596.5 258.6 V364.2" stroke="#c8474a" stroke-width="1.7" fill="none"/>
<path d="M320.0 228.8 h4.4 M320.0 199.0 h4.4 M320.0 169.2 h4.4 M359.5 255.0 v7 M359.5 364.2 v-3.6 M399.0 255.0 v7 M399.0 364.2 v-3.6 M438.5 255.0 v7 M438.5 364.2 v-3.6 M478.0 255.0 v7 M478.0 364.2 v-3.6 M517.5 255.0 v7 M517.5 364.2 v-3.6 M557.0 255.0 v7 M557.0 364.2 v-3.6 " stroke="#1a1a1a" stroke-width="1.1" fill="none"/>
<path d="M320.0 342.2 h4.4 M320.0 320.3 h4.4 M320.0 298.4 h4.4 M320.0 276.4 h4.4 " stroke="#4f6228" stroke-width="1.2" fill="none"/>
<path d="M596.5 327.8 h-4 M596.5 309.3 h-4 M596.5 290.9 h-4 M596.5 272.4 h-4 " stroke="#c8474a" stroke-width="1.2" fill="none"/>
<path d="M596.5 142 h-3 M596.5 181.4 h-3" stroke="#1f77b8" stroke-width="1" fill="none"/>
<path d="M476.5 143.9 L478 363.2" stroke="#0a0a0a" stroke-width="1.4" stroke-dasharray="3.4 1.3" fill="none"/>
<g class="san" font-size="13.3" fill="#262626" text-anchor="end">
<text x="308.2" y="144.1">50</text>
<text x="308.2" y="173.9">40</text>
<text x="308.2" y="203.7">30</text>
<text x="308.2" y="233.5">20</text>
<text x="308.2" y="263.3">10</text>
</g>
<g class="san" font-size="13.3" fill="#56682f" text-anchor="end">
<text x="308.2" y="281.1">20</text>
<text x="308.2" y="303.1">15</text>
<text x="308.2" y="325.0">10</text>
<text x="308.2" y="346.9">5</text>
<text x="308.2" y="368.9">0</text>
</g>
<g class="san" font-size="13.6" fill="#c8373c">
<text x="607.4" y="277.2">2</text>
<text x="607.4" y="295.7">1.5</text>
<text x="607.4" y="314.1">1</text>
<text x="607.4" y="332.6">0.5</text>
<text x="607.4" y="351.0">0</text>
</g>
<g class="san" font-size="13.3" fill="#262626" text-anchor="middle">
<text x="321.6" y="381.8">1E-1</text>
<text x="361.5" y="381.8">1E+0</text>
<text x="401.0" y="381.8">1E+1</text>
<text x="440.5" y="381.8">1E+2</text>
<text x="480.0" y="381.8">1E+3</text>
<text x="519.5" y="381.8">1E+4</text>
<text x="559.0" y="381.8">1E+5</text>
<text x="598.5" y="381.8">1E+6</text>
<text x="454.2" y="398.4" font-size="13.7">Cycle number</text>
</g>
<text class="san" transform="translate(281.6,198) rotate(-90)" text-anchor="middle" font-size="13.7" fill="#262626">2P<tspan font-size="9" dy="2.4">r</tspan><tspan dy="-2.4"> [µC/cm</tspan><tspan font-size="9" dy="-4">2</tspan><tspan dy="4">]</tspan></text>
<text class="sb" transform="translate(269.9,315.6) rotate(-90) scale(1,0.92)" text-anchor="middle" font-size="11.9" fill="#56682f">Defect concentration</text>
<text class="san" transform="translate(287.4,314.6) rotate(-90)" text-anchor="middle" font-size="13.5" fill="#56682f">[x10<tspan font-size="9" dy="-4">19</tspan><tspan dy="4"> cm</tspan><tspan font-size="9" dy="-4">-3</tspan><tspan dy="4">]</tspan></text>
<text class="san" transform="translate(617.6,199.8) rotate(-90)" text-anchor="middle" font-size="15.9" fill="#1f77b8">Leakage current</text>
<text class="san" transform="translate(639,199.3) rotate(-90)" text-anchor="middle" font-size="16.3" fill="#1f77b8">@ 1V [a.u.]</text>
<text class="san" transform="translate(642.2,308.6) rotate(-90)" text-anchor="middle" font-size="13.9" fill="#c8373c">|E<tspan font-size="10" dy="2.6">bias</tspan><tspan dy="-2.6">| [MV/cm]</tspan></text>
<path d="M320.0 246.6 C326.6 243.1 349.8 230.5 359.5 225.4 C369.2 220.3 374.1 217.9 378.1 216.2 C382.0 214.5 381.7 215.3 383.2 215.0 C384.7 214.7 384.5 214.8 387.1 214.2 C389.8 213.6 390.4 212.8 399.0 211.6 C407.6 210.4 425.3 208.6 438.5 207.0 C451.7 205.4 464.8 202.9 478.0 201.8 C491.2 200.7 504.3 199.2 517.5 200.6 C530.7 202.0 543.8 206.9 557.0 210.0 C570.2 213.1 589.9 217.5 596.5 219.0" stroke="#1a1a1a" stroke-width="2.1" fill="none" stroke-linejoin="round"/>
<path d="M320.0 220.4 C326.6 220.4 349.8 220.4 359.5 220.4 C369.2 220.4 374.1 220.4 378.1 220.4 C382.0 220.4 381.7 220.4 383.2 220.4 C384.7 220.4 384.5 220.4 387.1 220.4 C389.8 220.4 390.4 220.4 399.0 220.4 C407.6 220.4 425.3 220.4 438.5 220.4 C451.7 220.4 464.8 222.3 478.0 220.3 C491.2 218.3 504.3 212.6 517.5 208.6 C530.7 204.6 543.8 204.1 557.0 196.6 C570.2 189.1 589.9 168.9 596.5 163.4" stroke="#0070c0" stroke-width="2.1" fill="none" stroke-linejoin="round"/>
<path d="M320.0 242.2 l4.2 7.4 h-8.4 Z" fill="#1a1a1a"/>
<path d="M359.5 221.0 l4.2 7.4 h-8.4 Z" fill="#1a1a1a"/>
<path d="M378.1 211.8 l4.2 7.4 h-8.4 Z" fill="#1a1a1a"/>
<path d="M383.2 210.6 l4.2 7.4 h-8.4 Z" fill="#1a1a1a"/>
<path d="M387.1 209.8 l4.2 7.4 h-8.4 Z" fill="#1a1a1a"/>
<path d="M399.0 207.2 l4.2 7.4 h-8.4 Z" fill="#1a1a1a"/>
<path d="M438.5 202.6 l4.2 7.4 h-8.4 Z" fill="#1a1a1a"/>
<path d="M478.0 197.4 l4.2 7.4 h-8.4 Z" fill="#1a1a1a"/>
<path d="M517.5 196.2 l4.2 7.4 h-8.4 Z" fill="#1a1a1a"/>
<path d="M557.0 205.6 l4.2 7.4 h-8.4 Z" fill="#1a1a1a"/>
<path d="M596.5 214.6 l4.2 7.4 h-8.4 Z" fill="#1a1a1a"/>
<path d="M320.0 216.4 l4 4 l-4 4 l-4 -4 Z" fill="#0070c0"/>
<path d="M359.5 216.4 l4 4 l-4 4 l-4 -4 Z" fill="#0070c0"/>
<path d="M378.1 216.4 l4 4 l-4 4 l-4 -4 Z" fill="#0070c0"/>
<path d="M383.2 216.4 l4 4 l-4 4 l-4 -4 Z" fill="#0070c0"/>
<path d="M387.1 216.4 l4 4 l-4 4 l-4 -4 Z" fill="#0070c0"/>
<path d="M399.0 216.4 l4 4 l-4 4 l-4 -4 Z" fill="#0070c0"/>
<path d="M438.5 216.4 l4 4 l-4 4 l-4 -4 Z" fill="#0070c0"/>
<path d="M478.0 216.3 l4 4 l-4 4 l-4 -4 Z" fill="#0070c0"/>
<path d="M517.5 204.6 l4 4 l-4 4 l-4 -4 Z" fill="#0070c0"/>
<path d="M557.0 192.6 l4 4 l-4 4 l-4 -4 Z" fill="#0070c0"/>
<path d="M596.5 159.4 l4 4 l-4 4 l-4 -4 Z" fill="#0070c0"/>
<path d="M320.0 342.4 C326.6 342.4 346.3 342.4 359.5 342.4 C372.7 342.4 385.8 342.4 399.0 342.4 C412.2 342.4 425.3 342.4 438.5 342.4 C451.7 342.4 464.8 343.1 478.0 342.5 C491.2 341.9 504.3 340.6 517.5 338.6 C530.7 336.6 543.8 341.6 557.0 330.5 C570.2 319.4 589.9 281.8 596.5 272.0" stroke="#4f6228" stroke-width="2.4" fill="none" stroke-linejoin="round"/>
<path d="M320.0 276.6 C326.6 276.6 349.8 275.1 359.5 276.4 C369.2 277.7 374.1 282.5 378.1 284.4 C382.0 286.3 381.7 286.2 383.2 288.0 C384.7 289.8 384.5 293.3 387.1 295.0 C389.8 296.7 390.4 292.9 399.0 298.4 C407.6 303.9 425.3 320.0 438.5 328.0 C451.7 336.0 464.8 343.3 478.0 346.4 C491.2 349.5 504.3 346.4 517.5 346.4 C530.7 346.4 543.8 346.4 557.0 346.4 C570.2 346.4 589.9 346.4 596.5 346.4" stroke="#d9474b" stroke-width="2.4" fill="none" stroke-linejoin="round"/>
<path d="M320.0 338.1 l4.3 4.3 l-4.3 4.3 l-4.3 -4.3 Z" fill="#4f6228"/>
<path d="M359.5 338.1 l4.3 4.3 l-4.3 4.3 l-4.3 -4.3 Z" fill="#4f6228"/>
<path d="M399.0 338.1 l4.3 4.3 l-4.3 4.3 l-4.3 -4.3 Z" fill="#4f6228"/>
<path d="M438.5 338.1 l4.3 4.3 l-4.3 4.3 l-4.3 -4.3 Z" fill="#4f6228"/>
<path d="M478.0 338.2 l4.3 4.3 l-4.3 4.3 l-4.3 -4.3 Z" fill="#4f6228"/>
<path d="M517.5 334.3 l4.3 4.3 l-4.3 4.3 l-4.3 -4.3 Z" fill="#4f6228"/>
<path d="M557.0 326.2 l4.3 4.3 l-4.3 4.3 l-4.3 -4.3 Z" fill="#4f6228"/>
<path d="M596.5 267.7 l4.3 4.3 l-4.3 4.3 l-4.3 -4.3 Z" fill="#4f6228"/>
<rect x="316.1" y="272.7" width="7.8" height="7.8" fill="#d9474b"/>
<rect x="355.6" y="272.5" width="7.8" height="7.8" fill="#d9474b"/>
<rect x="374.2" y="280.5" width="7.8" height="7.8" fill="#d9474b"/>
<rect x="379.3" y="284.1" width="7.8" height="7.8" fill="#d9474b"/>
<rect x="383.2" y="291.1" width="7.8" height="7.8" fill="#d9474b"/>
<rect x="395.1" y="294.5" width="7.8" height="7.8" fill="#d9474b"/>
<rect x="434.6" y="324.1" width="7.8" height="7.8" fill="#d9474b"/>
<rect x="474.1" y="342.5" width="7.8" height="7.8" fill="#d9474b"/>
<rect x="513.6" y="342.5" width="7.8" height="7.8" fill="#d9474b"/>
<rect x="553.1" y="342.5" width="7.8" height="7.8" fill="#d9474b"/>
<rect x="592.6" y="342.5" width="7.8" height="7.8" fill="#d9474b"/>
<path d="M320.8 169.4 L327.4 163.0 V165.6 H470.2 V163.0 L476.8 169.4 L470.2 175.8 V173.2 H327.4 V175.8 Z" fill="#d9262c" stroke="#1a1a1a" stroke-width="1.8" stroke-linejoin="miter"/>
<path d="M479.4 171.1 L486.7 163.8 V167.1 H590.7 V163.8 L598.0 171.1 L590.7 178.4 V175.1 H486.7 V178.4 Z" fill="#2e75b6" stroke="#1a1a1a" stroke-width="1.8" stroke-linejoin="miter"/>
<text class="sb" x="407.5" y="159" text-anchor="middle" font-size="14" fill="#d0282e">Wake up</text>
<text class="sb" x="539.4" y="159" text-anchor="middle" font-size="14" fill="#1f6fb4">Fatigue</text>
<text class="ser" x="325.4" y="154" font-size="12.6" fill="#111">(e)</text>
</g>
</svg>
</body>
</html>
